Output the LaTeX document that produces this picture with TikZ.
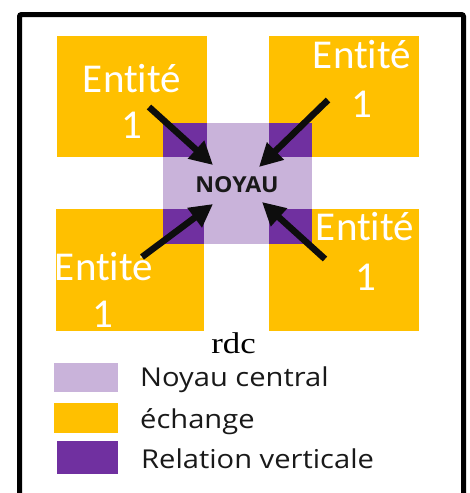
\documentclass[tikz,border=0pt]{standalone}
\usepackage{fontspec}
\usetikzlibrary{arrows.meta}
\newfontfamily\entfont[Ligatures=NoCommon]{Carlito}
\newfontfamily\legfont[FakeStretch=1.12]{Open Sans}
\newfontfamily\noyfont[FakeStretch=1.05]{Open Sans}
\newfontfamily\rdcfont[FakeStretch=1.16]{Liberation Serif}
\definecolor{orng}{HTML}{FFC000}
\definecolor{lilac}{HTML}{C9B3DA}
\definecolor{purp}{HTML}{7030A0}
\tikzset{
  ent/.style={text=white, font=\entfont\fontsize{41}{44}\selectfont, inner sep=0pt, anchor=base},
  leg/.style={font=\legfont\fontsize{26}{30}\selectfont, inner sep=0pt, anchor=base west, text=black!90},
  arr/.style={line width=6.5pt, -{Triangle[length=23pt, width=23pt]}, black!95},
}
\begin{document}
\begin{tikzpicture}[x=1pt, y=-1pt]
\clip (0,0) rectangle (469,493);
\fill[white] (0,0) rectangle (469,493);
% frame
\draw[line width=5pt, rounded corners=2pt] (19.5,520) -- (19.5,14.5) -- (463.5,14.5) -- (463.5,520);
% entity boxes
\node[fill=orng, inner sep=0pt, minimum width=150pt, minimum height=121pt] (e1) at (132,96.5) {};
\node[fill=orng, inner sep=0pt, minimum width=150pt, minimum height=121pt] (e2) at (344,96.5) {};
\node[fill=orng, inner sep=0pt, minimum width=148pt, minimum height=122pt] (e3) at (130,270) {};
\node[fill=orng, inner sep=0pt, minimum width=150pt, minimum height=122pt] (e4) at (344,270) {};
% core
\node[fill=lilac, inner sep=0pt, minimum width=149pt, minimum height=121pt] (core) at (237.5,183.5) {};
\fill[purp] (163,123) rectangle (207,157);
\fill[purp] (269,123) rectangle (312,157);
\fill[purp] (163,209) rectangle (204,244);
\fill[purp] (269,209) rectangle (312,244);
% entity labels
\node[ent] (t1a) at (132,92) {Entité};
\node[ent] (t1b) at (132,138) {1};
\node[ent] (t2a) at (362,68) {Entité};
\node[ent] (t2b) at (362,117) {1};
\node[ent] (t3a) at (104,280) {Entité};
\node[ent] (t3b) at (103,327) {1};
\node[ent] (t4a) at (365,240) {Entité};
\node[ent] (t4b) at (366,290) {1};
% noyau label
\node[font=\noyfont\bfseries\fontsize{22}{26}\selectfont, inner sep=0pt, anchor=base, text=black!90] (noy) at (237,192) {NOYAU};
% arrows
\coordinate (s1) at (149,107); \coordinate (h1) at (213,165);
\coordinate (s2) at (328,100); \coordinate (h2) at (259,167);
\coordinate (s3) at (142,257); \coordinate (h3) at (213,204);
\coordinate (s4) at (325,259); \coordinate (h4) at (262,202);
\draw[arr] (s1) -- (h1);
\draw[arr] (s2) -- (h2);
\draw[arr] (s3) -- (h3);
\draw[arr] (s4) -- (h4);
% caption
\node[font=\rdcfont\fontsize{30}{32}\selectfont, inner sep=0pt, anchor=base] (rdc) at (233.5,353) {rdc};
% legend
\node[fill=lilac, inner sep=0pt, minimum width=64pt, minimum height=29pt] (l1) at (86,377.5) {};
\node[fill=orng, inner sep=0pt, minimum width=64pt, minimum height=30pt] (l2) at (86,418) {};
\node[fill=purp, inner sep=0pt, minimum width=61pt, minimum height=33pt] (l3) at (87.5,457.5) {};
\node[leg] (k1) at (140,386) {Noyau central};
\node[leg] (k2) at (140,428) {échange};
\node[leg] (k3) at (141,468) {Relation verticale};
\end{tikzpicture}
\end{document}
